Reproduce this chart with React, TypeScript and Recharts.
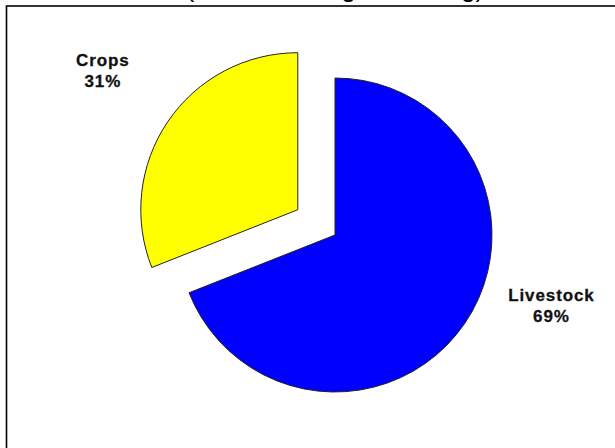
import React from 'react';
import { PieChart, Pie, Cell, Customized } from 'recharts';

const categories = ['Livestock', 'Crops'];
const shares = [69, 31];
const colors = ['#0000FF', '#FFFF00'];
const explodedCategory = 'Crops';
const titleText = '(income during marketing)';

const data = categories.map((name, i) => ({ name, value: shares[i] }));

const W = 615;
const H = 448;
const CX = 335;
const CY = 235;
const R = 157;
const EXPLODE = 45;
const START = 90;
const END = -270;

// label placement (angle in degrees, radius as multiple of outer radius)
const labelLayout: Record<string, { angle: number; k: number }> = {
  Livestock: { angle: -18.3, k: 1.452 },
  Crops: { angle: 144.6, k: 1.523 },
};

const total = shares.reduce((a, b) => a + b, 0);
function midAngleOf(name: string) {
  let acc = 0;
  for (let i = 0; i < categories.length; i++) {
    const span = (shares[i] / total) * (START - END);
    if (categories[i] === name) return START - acc - span / 2;
    acc += span;
  }
  return 0;
}
const RAD = Math.PI / 180;
const exMid = midAngleOf(explodedCategory);
const exDx = EXPLODE * Math.cos(exMid * RAD);
const exDy = -EXPLODE * Math.sin(exMid * RAD);

const makeLabel = (visibleName: string) => (props: any) => {
  const { cx, cy, outerRadius, name, value } = props;
  if (name !== visibleName) return null;
  const lay = labelLayout[name];
  const x = cx + outerRadius * lay.k * Math.cos(lay.angle * RAD);
  const y = cy - outerRadius * lay.k * Math.sin(lay.angle * RAD);
  return (
    <text
      x={x}
      y={y}
      textAnchor="middle"
      fill="#111"
      fontFamily="'Liberation Sans', Arial, sans-serif"
      fontWeight="bold"
      fontSize={17}
      letterSpacing={0.9}
      stroke="#111"
      strokeWidth={0.3}
    >
      <tspan x={x} y={y - 5.5}>{name}</tspan>
      <tspan x={x} y={y + 15.5}>{`${value}%`}</tspan>
    </text>
  );
};

const Frame = () => (
  <g>
    <rect x={6.5} y={6} width={W + 50} height={H + 50} fill="none" stroke="#000" strokeWidth={1.6} />
    <text
      x={335}
      y={-3}
      textAnchor="middle"
      fontFamily="'Liberation Sans', Arial, sans-serif"
      fontSize={25.7}
      fill="#000"
    >
      {titleText}
    </text>
  </g>
);

export default function App() {
  return (
    <div style={{ position: 'fixed', left: 0, top: 0, width: W, height: H, background: '#fff' }}>
      <PieChart width={W} height={H} margin={{ top: 0, right: 0, bottom: 0, left: 0 }}>
        <Customized component={Frame} />
        <Pie
          data={data}
          dataKey="value"
          nameKey="name"
          cx={CX}
          cy={CY}
          outerRadius={R}
          startAngle={START}
          endAngle={END}
          isAnimationActive={false}
          labelLine={false}
          label={makeLabel('Livestock')}
        >
          {data.map((d, i) => (
            <Cell
              key={d.name}
              fill={d.name === explodedCategory ? 'transparent' : colors[i]}
              stroke={d.name === explodedCategory ? 'none' : '#222'}
              strokeWidth={1}
            />
          ))}
        </Pie>
        <Pie
          data={data}
          dataKey="value"
          nameKey="name"
          cx={CX + exDx}
          cy={CY + exDy}
          outerRadius={R}
          startAngle={START}
          endAngle={END}
          isAnimationActive={false}
          labelLine={false}
          label={makeLabel('Crops')}
        >
          {data.map((d, i) => (
            <Cell
              key={d.name}
              fill={d.name === explodedCategory ? colors[i] : 'transparent'}
              stroke={d.name === explodedCategory ? '#222' : 'none'}
              strokeWidth={1}
            />
          ))}
        </Pie>
      </PieChart>
    </div>
  );
}
